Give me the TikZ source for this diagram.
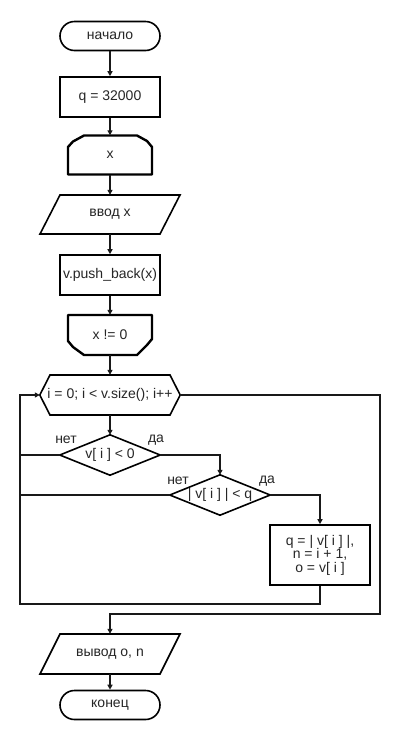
\documentclass[tikz,border=0pt]{standalone}
\usepackage{fontspec}
\setmainfont{Liberation Sans}
\usetikzlibrary{arrows.meta}
\begin{document}
\begin{tikzpicture}[x=1pt,y=-1pt,
  txt/.style={font=\fontsize{14pt}{13.5pt}\selectfont, text=black!85},
  shp/.style={draw=black, line width=1.6pt, line join=miter},
  lb/.style={draw=black, line width=2.4pt, line join=round},
  ghost/.style={txt, inner sep=0pt, minimum width=#1},
  term/.style={txt, shp, rounded corners=14.5pt, minimum width=100pt, minimum height=29pt, inner sep=0pt},
  proc/.style={txt, shp, minimum width=100pt, minimum height=40pt, inner sep=0pt},
  conn/.style={draw=black!90, line width=1.3pt},
  arr/.style={conn, -{Triangle[length=5pt,width=5pt]}},
  lbl/.style={txt}
]
\useasboundingbox (0,0) rectangle (400,740);
\fill[white] (0,0) rectangle (400,740);

% nodes
\node[term] (start) at (110,36) {начало};
\node[proc] (q) at (110,97) {q = 32000};
\node[ghost=84pt, minimum height=39pt] (xb) at (110,155) {x};
\node[ghost=140pt, minimum height=39pt] (in) at (110,214.5) {ввод x};
\node[proc] (push) at (110,275) {v.push\_back(x)};
\node[ghost=84pt, minimum height=40pt] (xne) at (110,335) {x != 0};
\node[ghost=140pt, minimum height=40pt] (hex) at (110,395) {i = 0; i < v.size(); i++};
\node[ghost=100pt, minimum height=40pt] (d1) at (110,455) {v[ i ] < 0};
\node[ghost=100pt, minimum height=40pt] (d2) at (220,495) {| v[ i ] | < q};
\node[proc, align=center, minimum height=60pt] (upd) at (320,555) {q = | v[ i ] |,\\n = i + 1,\\o = v[ i ]};
\node[ghost=140pt, minimum height=40pt] (out) at (110,654) {вывод o, n};
\node[term] (stop) at (110,705) {конец};

% shapes drawn as outlines
\draw[lb] (68,174.5) -- (68,147) -- (73,141.5) -- (84,135.5) -- (137,135.5) -- (147,141) -- (152,147) -- (152,174.5) -- cycle;
\draw[shp] (60,195) -- (180,195) -- (160,234) -- (40,234) -- cycle;
\draw[lb] (68,315) -- (152,315) -- (152,339) -- (147,345) -- (137,355) -- (84,355) -- (73,347) -- (68,341) -- cycle;
\draw[shp] (hex.west) -- (50,375) -- (170,375) -- (hex.east) -- (170,415) -- (50,415) -- cycle;
\draw[shp] (d1.west) -- (d1.north) -- (d1.east) -- (d1.south) -- cycle;
\draw[shp] (d2.west) -- (d2.north) -- (d2.east) -- (d2.south) -- cycle;
\draw[shp] (60,634) -- (180,634) -- (160,674) -- (40,674) -- cycle;

% labels
\node[lbl] (n1) at (66,440) {нет};
\node[lbl] (y1) at (156,440) {да};
\node[lbl] (n2) at (178,481) {нет};
\node[lbl] (y2) at (267,481) {да};

% coordinates
\coordinate (lp) at (20,604);
\coordinate (rb) at (380,614);

% connectors
\draw[arr] (start.south) -- (q.north);
\draw[arr] (q.south) -- (xb.north);
\draw[arr] (xb.south) -- (in.north);
\draw[arr] (in.south) -- (push.north);
\draw[arr] (push.south) -- (xne.north);
\draw[arr] (xne.south) -- (hex.north);
\draw[arr] (hex.south) -- (d1.north);
\draw[conn] (d1.west) -- (d1.west -| lp);
\draw[arr] (d1.east) -| (d2.north);
\draw[conn] (d2.west) -- (d2.west -| lp);
\draw[arr] (d2.east) -| (upd.north);
\draw[arr] (upd.south) |- (lp) |- (hex.west);
\draw[arr] (hex.east) -| (rb) -| (out.north);
\draw[arr] (out.south) -- (stop.north);
\end{tikzpicture}
\end{document}
